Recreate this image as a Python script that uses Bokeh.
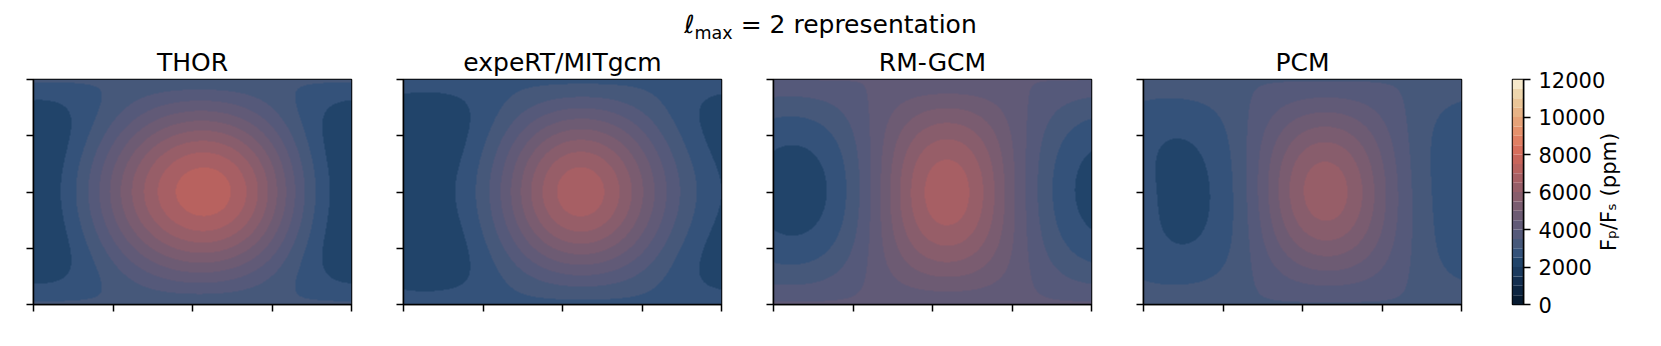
import numpy as np
from bokeh.plotting import figure
from bokeh.layouts import row, column
from bokeh.models import LinearColorMapper, FixedTicker, Div
from bokeh.embed import file_html
from bokeh.resources import INLINE

# ---------------- data ----------------
models = ["THOR", "expeRT/MITgcm", "RM-GCM", "PCM"]

# l_max = 2 spherical-harmonic representation of each map (ppm, lon in deg)
c00      = [4260.0, 3857.0, 4162.0, 3811.0]   # Y00 (constant)
c10      = [0.0,    0.0,    -30.0,  0.0]      # Y10  ~ sin(lat)
c20      = [-1160.0, -1007.0, -112.0, -361.0] # Y20  ~ P2(sin lat)
l1_amp   = [2575.0, 2254.0, 2304.0, 1941.0]   # Y11  ~ cos(lat) cos(lon - l1_lon)
l1_lon   = [6.9,    23.3,   17.5,   29.7]
c21_amp  = [0.0,    0.0,    0.0,    80.0]     # Y21  ~ sin(lat)cos(lat) cos(lon - c21_lon)
c21_lon  = [0.0,    0.0,    0.0,   -46.0]
l2_amp   = [153.0,  226.0,  312.0,  392.0]    # Y22  ~ cos^2(lat) cos(2(lon - l2_lon))
l2_lon   = [71.6,   11.6,   13.2,   20.7]

levels   = [0, 500, 1000, 1500, 2000, 2500, 3000, 3500, 4000, 4500, 5000, 5500,
            6000, 6500, 7000, 7500, 8000, 8500, 9000, 9500, 10000, 10500, 11000,
            11500, 12000]
cb_ticks = [0, 2000, 4000, 6000, 8000, 10000, 12000]
x_ticks  = [-180, -90, 0, 90, 180]
y_ticks  = [-90, -45, 0, 45, 90]

palette = ["#061a30", "#0c2440", "#132e4f", "#1b3a5e", "#21446a", "#34527a",
           "#46587a", "#55597a", "#615a77", "#6d5b73", "#7a5c70", "#885d6c",
           "#975e68", "#a75f64", "#b8625f", "#c8655b", "#d76e5c", "#e07f63",
           "#e5916c", "#e6a278", "#e7b386", "#eac597", "#eed6ad", "#f7e9cb"]

FONT = "DejaVu Sans"

# ---------------- build the maps ----------------
nx, ny = 636, 450
lon = -180.0 + (np.arange(nx) + 0.5) * 360.0 / nx
lat = -90.0 + (np.arange(ny) + 0.5) * 180.0 / ny
LON, LAT = np.meshgrid(np.radians(lon), np.radians(lat))
sl, cl = np.sin(LAT), np.cos(LAT)


def field(k):
    f = (c00[k] + c10[k] * sl + c20[k] * (1.5 * sl ** 2 - 0.5)
         + l1_amp[k] * cl * np.cos(LON - np.radians(l1_lon[k]))
         + c21_amp[k] * sl * cl * np.cos(LON - np.radians(c21_lon[k]))
         + l2_amp[k] * cl ** 2 * np.cos(2.0 * (LON - np.radians(l2_lon[k]))))
    return f


mapper = LinearColorMapper(palette=palette, low=levels[0], high=levels[-1])


def style_frame(p):
    p.grid.visible = False
    p.outline_line_color = "black"
    p.outline_line_width = 1.5
    p.outline_line_alpha = 1.0
    p.background_fill_color = "white"
    p.border_fill_color = "white"


TOP = 39      # border above the frames (frame top at y = 40 + 39 = 79)
BOTTOM = 26

panels = []
for k, name in enumerate(models):
    p = figure(frame_width=318, frame_height=225,
               x_range=(-180, 180), y_range=(-90, 90),
               min_border_left=33 if k == 0 else 26, min_border_right=26,
               min_border_top=TOP, min_border_bottom=BOTTOM,
               toolbar_location=None, output_backend="svg", title=name)
    p.image(image=[field(k)], x=-180, y=-90, dw=360, dh=180, color_mapper=mapper)
    p.xaxis.ticker = FixedTicker(ticks=x_ticks, minor_ticks=[])
    p.yaxis.ticker = FixedTicker(ticks=y_ticks, minor_ticks=[])
    p.xaxis.major_label_overrides = {t: "" for t in x_ticks}
    p.yaxis.major_label_overrides = {t: "" for t in y_ticks}
    p.axis.major_label_text_font_size = "10px"
    p.axis.major_label_standoff = 0
    p.axis.major_tick_out = 7
    p.axis.major_tick_in = 0
    p.axis.minor_tick_out = 0
    p.axis.minor_tick_in = 0
    p.axis.major_tick_line_width = 1.5
    p.axis.major_tick_line_color = "black"
    p.axis.axis_line_width = 1.5
    p.axis.axis_line_color = "black"
    p.title.align = "center"
    p.title.text_font = FONT
    p.title.text_font_size = "25px"
    p.title.text_font_style = "normal"
    p.title.text_color = "black"
    p.title.standoff = 6
    style_frame(p)
    panels.append(p)

# ---------------- colour bar ----------------
cb = figure(frame_width=11, frame_height=225, x_range=(0, 1), y_range=(levels[0], levels[-1]),
            x_axis_location=None, y_axis_location="right",
            min_border_left=25, min_border_right=82, min_border_top=TOP, min_border_bottom=BOTTOM,
            toolbar_location=None, output_backend="svg")
cb.quad(left=0, right=1, bottom=levels[:-1], top=levels[1:], fill_color=palette, line_color=None)
cb.yaxis.ticker = FixedTicker(ticks=cb_ticks, minor_ticks=[])
cb.yaxis.major_label_text_font = FONT
cb.yaxis.major_label_text_font_size = "21px"
cb.yaxis.major_label_text_color = "black"
cb.yaxis.major_label_standoff = 8
cb.yaxis.major_tick_out = 7
cb.yaxis.major_tick_in = 0
cb.yaxis.minor_tick_out = 0
cb.yaxis.minor_tick_in = 0
cb.yaxis.major_tick_line_width = 1.5
cb.yaxis.axis_line_width = 1.5
style_frame(cb)

# colour-bar label (a left-side title reads bottom-to-top, like the reference)
lab = figure(frame_width=10, frame_height=225, x_range=(0, 1), y_range=(0, 1),
             x_axis_location=None, y_axis_location=None, title_location="left",
             title="F\u209a/F\u209b (ppm)",
             min_border_left=0, min_border_right=0, min_border_top=TOP, min_border_bottom=BOTTOM,
             toolbar_location=None, output_backend="svg", margin=(0, 0, 0, -15))
lab.title.align = "center"
lab.title.text_font = FONT
lab.title.text_font_size = "21px"
lab.title.text_font_style = "normal"
lab.title.text_color = "black"
lab.title.standoff = 2
lab.grid.visible = False
lab.outline_line_color = None
lab.background_fill_color = None
lab.border_fill_color = None

title = Div(text="<div style='margin-top:7px'>\u2113<sub style='font-size:70%'>max</sub>"
                 " = 2 representation</div>",
            width=1661, height=40, margin=0,
            styles={"font-family": FONT, "font-size": "25px", "text-align": "center",
                    "color": "black"})

layout = column(title, row(*panels, cb, lab, spacing=0), spacing=0)

with open("out.html", "w") as fh:
    fh.write(file_html(layout, INLINE))
